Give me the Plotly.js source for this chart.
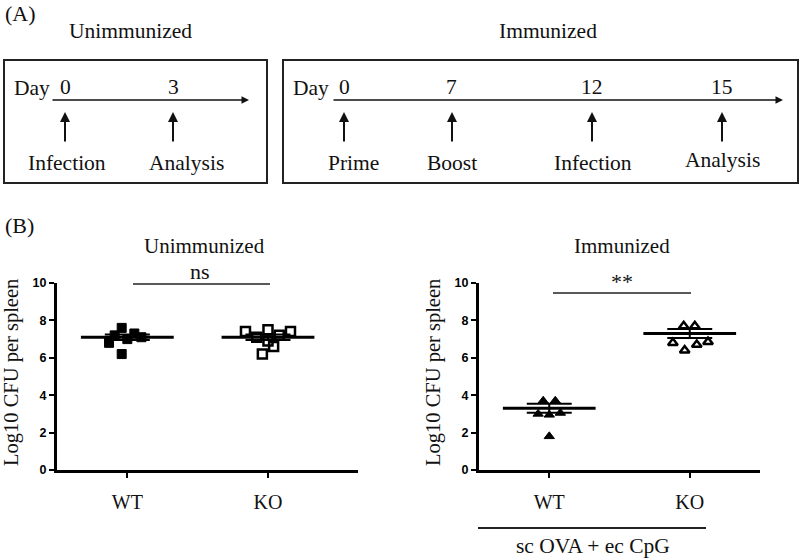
<!DOCTYPE html>
<html>
<head>
<meta charset="utf-8">
<script src="https://cdn.plot.ly/plotly-3.0.1.min.js"></script>
<style>html,body{margin:0;padding:0;background:#fff;}#chart{width:800px;height:558px;}</style>
</head>
<body>
<div id="chart"></div>
<script>
// ---------- DATA ----------
const groups = ['WT', 'KO'];
const yTicks = [0, 2, 4, 6, 8, 10];
const yTitle = 'Log10 CFU per spleen';

// Panel B, unimmunized (Log10 CFU per spleen)
const unimmWT = [7.6, 7.3, 7.2, 7.1, 7.0, 6.8, 6.2];
const unimmKO = [7.4, 7.5, 7.4, 7.2, 7.1, 6.9, 6.6, 6.2];
const unimmMean = [7.1, 7.1];
const unimmSEM = [0.15, 0.15];

// Panel B, immunized
const immWT = [3.7, 3.7, 3.0, 2.95, 3.05, 1.8];
const immKO = [7.7, 7.7, 6.8, 6.4, 6.7, 6.85];
const immMean = [3.3, 7.3];
const immSEM = [0.24, 0.24];

// Panel A timelines
const unimmDays = ['0', '3'];
const unimmEvents = ['Infection', 'Analysis'];
const immDays = ['0', '7', '12', '15'];
const immEvents = ['Prime', 'Boost', 'Infection', 'Analysis'];

// ---------- LAYOUT HELPERS (positions/styles) ----------
const W = 800, H = 558;
const px = x => x / W;
const py = y => 1 - y / H;
const SERIF = 'Liberation Serif, Times New Roman, serif';
const SANS = 'Liberation Sans, Arial, sans-serif';

// within-group horizontal scatter offsets (category units)
const unimmWTOff = [-0.04, 0.05, -0.09, 0.10, 0.0, -0.13, -0.04];
const unimmKOOff = [-0.16, 0.0, 0.16, 0.08, -0.08, 0.0, 0.04, -0.04];
const immWTOff = [-0.043, 0.043, -0.079, 0.0, 0.079, 0.0];
const immKOOff = [-0.043, 0.036, -0.12, -0.036, 0.05, 0.13];

function pointsTrace(vals, offs, cat, xa, ya, symbol, size, lw) {
  return {
    type: 'scatter', mode: 'markers', xaxis: xa, yaxis: ya,
    x: vals.map((v, i) => cat + offs[i]), y: vals,
    marker: {symbol: symbol, size: size, color: '#000', line: {color: '#000', width: lw}},
    hoverinfo: 'skip'
  };
}
function meanTraces(means, sems, xa, ya) {
  const mx = [], my = [], sx = [], sy = [];
  means.forEach((m, i) => {
    mx.push(i - 0.33, i + 0.33, null); my.push(m, m, null);
    const s = sems[i];
    sx.push(i - 0.16, i + 0.16, null, i - 0.16, i + 0.16, null, i, i, null);
    sy.push(m + s, m + s, null, m - s, m - s, null, m - s, m + s, null);
  });
  return [
    {type: 'scatter', mode: 'lines', xaxis: xa, yaxis: ya, x: mx, y: my,
     line: {color: '#000', width: 3}, hoverinfo: 'skip'},
    {type: 'scatter', mode: 'lines', xaxis: xa, yaxis: ya, x: sx, y: sy,
     line: {color: '#000', width: 2}, hoverinfo: 'skip'}
  ];
}

const data = [
  ...meanTraces(unimmMean, unimmSEM, 'x', 'y'),
  pointsTrace(unimmWT, unimmWTOff, 0, 'x', 'y', 'square', 9, 1),
  pointsTrace(unimmKO, unimmKOOff, 1, 'x', 'y', 'square-open', 9, 2.5),
  ...meanTraces(immMean, immSEM, 'x2', 'y2'),
  pointsTrace(immWT, immWTOff, 0, 'x2', 'y2', 'triangle-up', 9, 1),
  pointsTrace(immKO, immKOOff, 1, 'x2', 'y2', 'triangle-up-open', 8.5, 2.5)
];

function xAxis(domain, range, anchor) {
  return {
    domain: domain, range: range, anchor: anchor,
    tickvals: [0, 1], ticktext: groups, ticks: 'outside', ticklen: 5, tickwidth: 2,
    tickcolor: '#000', showline: true, linewidth: 3, linecolor: '#000',
    showgrid: false, zeroline: false, ticklabelstandoff: 7,
    tickfont: {family: SERIF, size: 20, color: '#111'}, fixedrange: true
  };
}
function yAxis(anchor) {
  return {
    domain: [py(470), py(283)], range: [0, 10], anchor: anchor,
    tickvals: yTicks, ticks: 'outside', ticklen: 5, tickwidth: 2, tickcolor: '#000',
    showline: true, linewidth: 3, linecolor: '#000', showgrid: false, zeroline: false,
    tickfont: {family: SANS, size: 12.5, color: '#000', weight: 'bold'}, fixedrange: true
  };
}

const ann = [];
function txt(text, x, y, size, xanchor, extra) {
  ann.push(Object.assign({text: text, x: px(x), y: py(y), xref: 'paper', yref: 'paper',
    xanchor: xanchor || 'center', yanchor: 'middle', showarrow: false,
    font: {family: SERIF, size: size, color: '#111'}}, extra || {}));
}
function arrow(xTip, yTip, dx, dy, head, w) {
  ann.push({text: '', x: px(xTip), y: py(yTip), xref: 'paper', yref: 'paper',
    ax: dx, ay: dy, showarrow: true, arrowhead: head, arrowsize: 1, arrowwidth: w,
    arrowcolor: '#111', standoff: 0, startstandoff: 0});
}

// Panel A
const FA = 21.5;
txt('(A)', 3, 13, 22, 'left');
txt('Unimmunized', 130, 31, FA);
txt('Immunized', 548, 31, FA);
txt('Day', 12, 88, FA, 'left');
txt('Day', 291, 88, FA, 'left');
const unimmDayX = [65, 173];
const unimmEventX = [67, 186];
const immDayX = [344, 452, 592, 722];
const immEventX = [353, 452, 593, 722];
const immEventY = [163, 163, 163, 160];
unimmDays.forEach((d, i) => { txt(d, unimmDayX[i], 87, FA); arrow(unimmDayX[i], 112, 0, 31, 2, 2); });
unimmEvents.forEach((e, i) => txt(e, unimmEventX[i], 163, FA));
immDays.forEach((d, i) => { txt(d, immDayX[i], 87, FA); arrow(immDayX[i], 112, 0, 31, 2, 2); });
immEvents.forEach((e, i) => txt(e, immEventX[i], immEventY[i], FA));
arrow(249, 100, -198, 0, 2, 1.5);
arrow(783, 100, -451, 0, 2, 1.5);

// Panel B
txt('(B)', 3, 226, 22, 'left');
txt('Unimmunized', 205, 246, 21);
txt('Immunized', 622, 246, 21);
txt('ns', 200, 272, 22);
txt('**', 622, 281, 22);
txt(yTitle, 11, 373, 20.5, 'center', {textangle: -90});
txt(yTitle, 433, 373, 20.5, 'center', {textangle: -90});
txt('sc OVA + ec CpG', 593, 546, 21.5);

const shapes = [
  {type: 'rect', xref: 'paper', yref: 'paper', x0: px(4), x1: px(267), y0: py(183), y1: py(60),
   line: {color: '#222', width: 2}},
  {type: 'rect', xref: 'paper', yref: 'paper', x0: px(283), x1: px(798), y0: py(183), y1: py(60),
   line: {color: '#222', width: 2}},
  {type: 'line', xref: 'paper', yref: 'paper', x0: px(133), x1: px(270), y0: py(284), y1: py(284),
   line: {color: '#222', width: 1.5}},
  {type: 'line', xref: 'paper', yref: 'paper', x0: px(553), x1: px(691), y0: py(293), y1: py(293),
   line: {color: '#222', width: 1.5}},
  {type: 'line', xref: 'paper', yref: 'paper', x0: px(478), x1: px(706), y0: py(528), y1: py(528),
   line: {color: '#222', width: 2}}
];

const layout = {
  width: W, height: H, margin: {l: 0, r: 0, t: 0, b: 0},
  paper_bgcolor: '#fff', plot_bgcolor: 'rgba(0,0,0,0)', showlegend: false,
  font: {family: SERIF, color: '#000'},
  xaxis: xAxis([px(57), px(358)], [-0.5, 1.64], 'y'),
  yaxis: yAxis('x'),
  xaxis2: xAxis([px(479), px(760)], [-0.5, 1.5], 'y2'),
  yaxis2: yAxis('x2'),
  annotations: ann, shapes: shapes
};

Plotly.newPlot('chart', data, layout, {displayModeBar: false, staticPlot: true});
</script>
</body>
</html>
